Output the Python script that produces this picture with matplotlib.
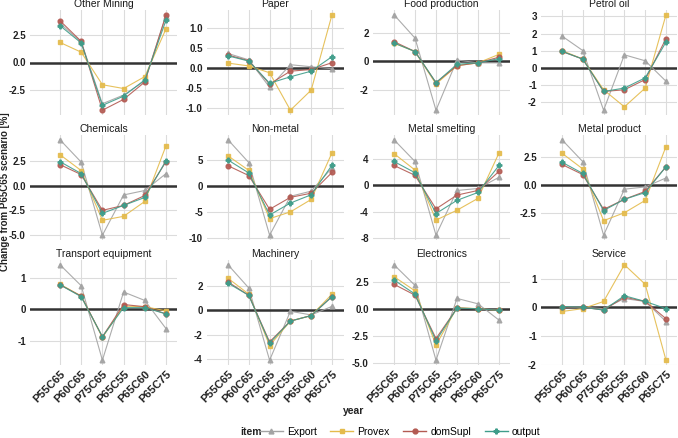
import matplotlib
matplotlib.use("Agg")
import matplotlib.pyplot as plt
from matplotlib.lines import Line2D

plt.rcParams['font.family'] = ['Liberation Sans', 'DejaVu Sans']

years = ["P55C65", "P60C65", "P75C65", "P65C55", "P65C60", "P65C75"]
items = ["Export", "Provex", "domSupl", "output"]
sectors = ["Other Mining", "Paper", "Food production", "Petrol oil",
           "Chemicals", "Non-metal", "Metal smelting", "Metal product",
           "Transport equipment", "Machinery", "Electronics", "Service"]

export = {
    "Other Mining": [3.6, 1.9, -3.8, -3.0, -1.7, 4.3],
    "Paper": [0.36, 0.20, -0.48, 0.08, 0.03, -0.02],
    "Food production": [3.3, 1.65, -3.45, 0.1, -0.1, -0.1],
    "Petrol oil": [1.85, 1.0, -2.5, 0.75, 0.4, -0.8],
    "Chemicals": [4.6, 2.35, -5.0, -0.95, -0.5, 1.2],
    "Non-metal": [8.9, 4.5, -9.5, -2.0, -1.0, 3.5],
    "Metal smelting": [6.9, 3.6, -7.6, -0.8, -0.5, 1.2],
    "Metal product": [4.0, 2.05, -4.5, -0.4, -0.2, 0.6],
    "Transport equipment": [1.42, 0.75, -1.63, 0.55, 0.28, -0.62],
    "Machinery": [3.7, 1.8, -4.1, -0.1, -0.4, 0.3],
    "Electronics": [4.1, 2.2, -4.7, 1.0, 0.5, -1.0],
    "Service": [0.02, 0.0, -0.05, 0.3, 0.2, -0.5],
}
provex = {
    "Other Mining": [1.85, 0.95, -2.05, -2.4, -1.3, 3.1],
    "Paper": [0.12, 0.05, -0.12, -1.05, -0.55, 1.32],
    "Food production": [1.3, 0.7, -1.6, -0.3, -0.1, 0.5],
    "Petrol oil": [1.0, 0.5, -1.3, -2.3, -1.2, 3.1],
    "Chemicals": [3.1, 1.5, -3.5, -3.1, -1.6, 4.0],
    "Non-metal": [5.8, 3.0, -6.3, -5.0, -2.6, 6.4],
    "Metal smelting": [4.8, 2.3, -5.3, -3.8, -2.0, 4.9],
    "Metal product": [2.8, 1.4, -3.2, -2.5, -1.4, 3.4],
    "Transport equipment": [0.8, 0.42, -0.9, 0.1, 0.08, -0.05],
    "Machinery": [2.6, 1.3, -2.9, -0.9, -0.45, 1.3],
    "Electronics": [3.0, 1.7, -3.3, 0.15, 0.05, -0.1],
    "Service": [-0.15, -0.05, 0.2, 1.48, 0.8, -1.85],
}
domsupl = {
    "Other Mining": [3.85, 1.95, -4.4, -3.4, -1.8, 4.4],
    "Paper": [0.32, 0.18, -0.40, -0.08, -0.04, 0.13],
    "Food production": [1.4, 0.7, -1.5, -0.3, -0.1, 0.3],
    "Petrol oil": [0.95, 0.5, -1.4, -1.3, -0.7, 1.7],
    "Chemicals": [2.1, 1.1, -2.5, -2.0, -1.0, 2.4],
    "Non-metal": [3.9, 2.0, -4.5, -2.2, -1.4, 2.6],
    "Metal smelting": [3.0, 1.5, -3.6, -1.5, -0.8, 2.1],
    "Metal product": [1.8, 0.9, -2.2, -1.3, -0.6, 1.6],
    "Transport equipment": [0.78, 0.42, -0.88, 0.15, 0.08, -0.15],
    "Machinery": [2.3, 1.2, -2.6, -0.9, -0.45, 1.1],
    "Electronics": [2.3, 1.3, -2.7, 0.1, 0.05, -0.1],
    "Service": [0.0, 0.0, -0.1, 0.35, 0.2, -0.4],
}
output = {
    "Other Mining": [3.4, 1.8, -3.95, -3.1, -1.6, 3.9],
    "Paper": [0.30, 0.17, -0.38, -0.22, -0.08, 0.28],
    "Food production": [1.3, 0.7, -1.5, -0.2, -0.1, 0.2],
    "Petrol oil": [0.95, 0.5, -1.4, -1.2, -0.6, 1.5],
    "Chemicals": [2.4, 1.2, -2.8, -2.0, -1.2, 2.5],
    "Non-metal": [5.0, 2.5, -5.6, -3.3, -1.7, 4.0],
    "Metal smelting": [3.6, 1.9, -4.3, -2.3, -1.1, 3.0],
    "Metal product": [2.0, 1.0, -2.3, -1.3, -0.7, 1.6],
    "Transport equipment": [0.78, 0.40, -0.88, 0.05, 0.05, -0.15],
    "Machinery": [2.2, 1.2, -2.7, -0.9, -0.45, 1.1],
    "Electronics": [2.7, 1.4, -2.9, 0.1, 0.05, -0.1],
    "Service": [0.02, 0.0, -0.1, 0.4, 0.2, -0.05],
}
series = {"Export": export, "Provex": provex, "domSupl": domsupl, "output": output}

yticks = {
    "Other Mining": [-2.5, 0, 2.5],
    "Paper": [-1.0, -0.5, 0, 0.5, 1.0],
    "Food production": [-2, 0, 2],
    "Petrol oil": [-2, -1, 0, 1, 2, 3],
    "Chemicals": [-5.0, -2.5, 0, 2.5],
    "Non-metal": [-10, -5, 0, 5],
    "Metal smelting": [-8, -4, 0, 4],
    "Metal product": [-2.5, 0, 2.5],
    "Transport equipment": [-1, 0, 1],
    "Machinery": [-4, -2, 0, 2],
    "Electronics": [-5.0, -2.5, 0, 2.5],
    "Service": [-2, -1, 0, 1],
}
ytick_fmt = {
    "Other Mining": "{:.1f}", "Paper": "{:.1f}", "Food production": "{:.0f}",
    "Petrol oil": "{:.0f}", "Chemicals": "{:.1f}", "Non-metal": "{:.0f}",
    "Metal smelting": "{:.0f}", "Metal product": "{:.1f}",
    "Transport equipment": "{:.0f}", "Machinery": "{:.0f}",
    "Electronics": "{:.1f}", "Service": "{:.0f}",
}

colors = {"Export": "#a3a3a3", "Provex": "#e4bb4c", "domSupl": "#b35a52", "output": "#3f9d8a"}
markers = {"Export": "^", "Provex": "s", "domSupl": "o", "output": "P"}

W, H = 678, 438
fig = plt.figure(figsize=(W / 100, H / 100), dpi=100)
fig.patch.set_facecolor("white")

# panel geometry in pixels: (left, right, first grid, last grid)
cols = [(30, 177, 60, 166), (207, 344, 228, 332), (373, 510, 394, 499), (541, 677, 562, 666)]
row_tops = [10, 135, 260]
ph = 105

ytick_font = dict(fontsize=7, color="#222222", fontweight="bold")
xtick_font = dict(fontsize=8, color="#222222", fontweight="bold")

xs = list(range(len(years)))
for i, sec in enumerate(sectors):
    r, c = divmod(i, 4)
    left, right, g0, g1 = cols[c]
    top = row_tops[r]
    ax = fig.add_axes([left / W, 1 - (top + ph) / H, (right - left) / W, ph / H])
    u = 5.0 / (g1 - g0)
    ax.set_xlim(-(g0 - left) * u, 5 + (right - g1) * u)
    for it in items:
        ax.plot(xs, series[it][sec], color=colors[it], lw=0.8, marker=markers[it],
                ms=3.4, mec=colors[it], mfc=colors[it], alpha=0.9, zorder=3)
    ax.margins(y=0.05)
    ax.axhline(0, color="#333333", lw=1.8, zorder=2)
    ax.set_yticks(yticks[sec])
    ax.set_yticklabels([ytick_fmt[sec].format(v) for v in yticks[sec]], **ytick_font)
    ax.set_xticks(xs)
    if r == 2:
        ax.set_xticklabels(years, rotation=45, ha="right", rotation_mode="anchor",
                           **xtick_font)
    else:
        ax.set_xticklabels([])
    ax.grid(True, color="#dcdcdc", lw=0.8, zorder=0)
    ax.set_axisbelow(True)
    for s in ax.spines.values():
        s.set_visible(False)
    ax.tick_params(length=0, pad=3)
    ax.set_title(sec, fontsize=7.5, color="#1a1a1a", pad=2)

fig.text(354 / W, 1 - 411 / H, "year", ha="center", va="center", fontsize=7.5,
         fontweight="bold", color="#222222")
fig.text(5 / W, 1 - 192 / H, "Change from P65C65 scenario [%]", rotation=90,
         ha="center", va="center", fontsize=7, fontweight="bold", color="#222222")

handles = [Line2D([0], [0], color=colors[it], lw=1.0, marker=markers[it], ms=3.5,
                  mfc=colors[it], mec=colors[it]) for it in items]
fig.legend(handles, items, loc="center", bbox_to_anchor=(400 / W, 1 - 432 / H),
           ncol=4, frameon=False, fontsize=7.5, handlelength=2.2,
           columnspacing=1.3, handletextpad=0.4, borderpad=0, borderaxespad=0)
fig.text(251 / W, 1 - 432 / H, "item", ha="center", va="center", fontsize=7.5,
         fontweight="bold", color="#222222")

fig.savefig("out.png", dpi=100, facecolor="white")
